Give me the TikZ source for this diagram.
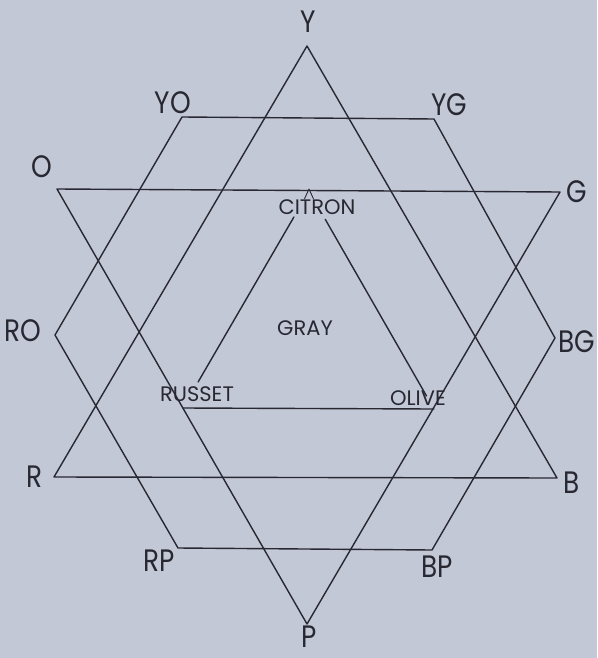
\documentclass[tikz,border=0pt]{standalone}
\usepackage{fontspec}
\setmainfont{Poppins}
\newfontfamily\bigfont{Poppins}[FakeStretch=0.85]
\usetikzlibrary{calc}
\definecolor{bg}{RGB}{195,200,214}
\definecolor{ink}{RGB}{40,40,50}
\tikzset{
  pen/.style={draw=ink, line width=1.4pt, line join=round, line cap=round},
  biglabel/.style={text=ink, font=\bigfont\fontsize{31}{31}\selectfont, inner sep=0pt},
  smalllabel/.style={text=ink, font=\fontsize{21}{21}\selectfont, inner sep=0pt},
}
\begin{document}
\begin{tikzpicture}[x=1pt,y=-1pt]
\fill[bg] (0,0) rectangle (597,658);
\useasboundingbox (0,0) rectangle (597,658);
% primaries and secondaries
\coordinate (Y) at (307,46);
\coordinate (R) at (54,477);
\coordinate (B) at (557,478);
\coordinate (P) at (307,624);
\coordinate (O) at (57,189);
\coordinate (G) at (560,192);
% tertiaries
\coordinate (YO) at (182,117);
\coordinate (YG) at (434,119);
\coordinate (BG) at (555,338);
\coordinate (BP) at (432,550);
\coordinate (RP) at (178,548);
\coordinate (RO) at (55,335);
% inner
\coordinate (cit) at (309,191);
\coordinate (rus) at (183,408);
\coordinate (oli) at (434,409);

% triangles
\draw[pen] (Y) -- (R) -- (B) -- cycle;
\draw[pen] (P) -- (O) -- (G) -- cycle;
% hexagon
\draw[pen] (YO) -- (YG) -- (BG) -- (BP) -- (RP) -- (RO) -- cycle;
% inner triangle
\draw[pen] (rus) -- (oli);
\draw[pen] ($(cit)!0.12!(rus)$) -- ($(cit)!0.88!(rus)$);
\draw[pen] ($(cit)!0.13!(oli)$) -- ($(cit)!0.94!(oli)$);
\draw[pen, line width=0.9pt] ($(cit)!0.035!(rus)$) -- ($(cit)+(0,-2)$) -- ($(cit)!0.035!(oli)$);

% labels
\node[biglabel] (lY) at (308,22) {Y};
\node[biglabel] (lYO) at (173,103) {YO};
\node[biglabel] (lYG) at (449,105) {YG};
\node[biglabel] (lO) at (42,167) {O};
\node[biglabel] (lG) at (577,192) {G};
\node[biglabel] (lRO) at (23,331) {RO};
\node[biglabel] (lBG) at (577,342) {BG};
\node[biglabel] (lR) at (35,477) {R};
\node[biglabel] (lB) at (572,483) {B};
\node[biglabel] (lRP) at (159,561) {RP};
\node[biglabel] (lBP) at (437,567) {BP};
\node[biglabel] (lP) at (309,637) {P};
\node[smalllabel] (lcit) at (317,207) {CITRON};
\node[smalllabel] (lgray) at (305,328) {GRAY};
\node[smalllabel] (lrus) at (197,394) {RUSSET};
\node[smalllabel] (loli) at (418,398) {OLIVE};
\end{tikzpicture}
\end{document}
